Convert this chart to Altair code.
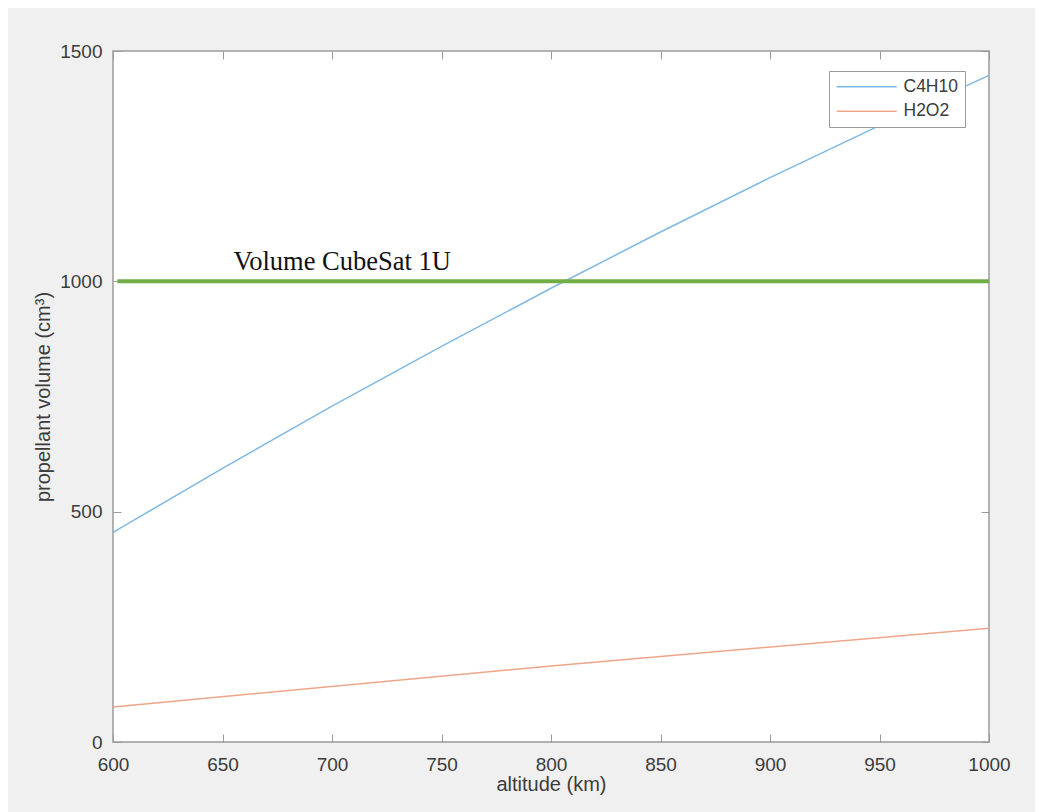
import altair as alt
import pandas as pd

# ---- data ----
c4h10_alt = [600, 650, 700, 750, 800, 850, 900, 950, 1000]
c4h10_vol = [455, 594, 729, 859, 985, 1107, 1225, 1338, 1447]
h2o2_alt = [600, 800, 1000]
h2o2_vol = [76, 165, 247]

series_names = ["C4H10", "H2O2"]
series_colors = ["#7fb8e3", "#efa588"]

x_ticks = [600, 650, 700, 750, 800, 850, 900, 950, 1000]
y_ticks = [0, 500, 1000, 1500]

cube_x = [602]
cube_x2 = [1000]
cube_volume = [1000]
cube_label = ["Volume CubeSat 1U"]
label_x = [655]
label_y = [1025]

rows = []
for a, v in zip(c4h10_alt, c4h10_vol):
    rows.append({"altitude": a, "volume": v, "series": "C4H10"})
for a, v in zip(h2o2_alt, h2o2_vol):
    rows.append({"altitude": a, "volume": v, "series": "H2O2"})
df = pd.DataFrame(rows)

rule_df = pd.DataFrame({"x": cube_x, "x2": cube_x2, "y": cube_volume})
text_df = pd.DataFrame({"x": label_x, "y": label_y, "label": cube_label})

x_scale = alt.Scale(domain=[600, 1000], nice=False, zero=False)
y_scale = alt.Scale(domain=[0, 1500], nice=False, zero=False)

AX = "#9a9a9a"
LBL = "#3c3c3c"
FONT = "Liberation Sans"

tick_common = dict(grid=False, domain=False, ticks=True, tickSize=8, tickWidth=1,
                   tickColor=AX, offset=-8)

lines = alt.Chart(df).mark_line(strokeWidth=1.5).encode(
    x=alt.X("altitude:Q", scale=x_scale,
            axis=alt.Axis(orient="bottom", values=x_ticks, format="d", labelFontSize=19,
                          labelFont=FONT, labelColor=LBL, labelPadding=13, labelFlush=False,
                          labelOverlap=False, title="altitude (km)", titleFontSize=20,
                          titleFont=FONT, titleFontWeight="normal", titleColor=LBL,
                          titlePadding=0, **tick_common)),
    y=alt.Y("volume:Q", scale=y_scale,
            axis=alt.Axis(orient="left", values=y_ticks, format="d", labelFontSize=19,
                          labelFont=FONT, labelColor=LBL, labelPadding=11, labelFlush=False,
                          labelOverlap=False, title="propellant volume (cm³)", titleFontSize=20,
                          titleFont=FONT, titleFontWeight="normal", titleColor=LBL,
                          titlePadding=6, **tick_common)),
    color=alt.Color("series:N",
                    scale=alt.Scale(domain=series_names, range=series_colors),
                    sort=series_names,
                    legend=alt.Legend(title=None, orient="none", legendX=716, legendY=20,
                                      padding=7, strokeColor=AX, fillColor="white",
                                      symbolType="M-1.1429,0H7.4286", symbolSize=196,
                                      symbolStrokeWidth=1.5, labelFontSize=17.5,
                                      labelFont=FONT, labelColor=LBL, labelOffset=50,
                                      rowPadding=5.5, cornerRadius=0)),
)

rule = alt.Chart(rule_df).mark_rule(color="#70ad47", strokeWidth=4).encode(
    x=alt.X("x:Q", scale=x_scale,
            axis=alt.Axis(orient="top", values=x_ticks, labels=False, title=None, **tick_common)),
    x2="x2:Q",
    y=alt.Y("y:Q", scale=y_scale,
            axis=alt.Axis(orient="right", values=y_ticks, labels=False, title=None, **tick_common)),
)

text = alt.Chart(text_df).mark_text(align="left", baseline="alphabetic",
                                    font="Liberation Serif", fontSize=26.5, color="#111111").encode(
    x=alt.X("x:Q", scale=x_scale, axis=None),
    y=alt.Y("y:Q", scale=y_scale, axis=None),
    text="label:N",
)

chart = alt.layer(lines, rule, text).properties(
    width=876, height=691,
    autosize=alt.AutoSizeParams(type="none"),
    padding={"left": 105, "top": 43, "right": 46, "bottom": 70},
    background="#f0f0f0",
).configure_view(stroke=AX, strokeWidth=1.5, fill="white")

chart.save("out.html", embed_options={"renderer": "svg", "actions": False})
